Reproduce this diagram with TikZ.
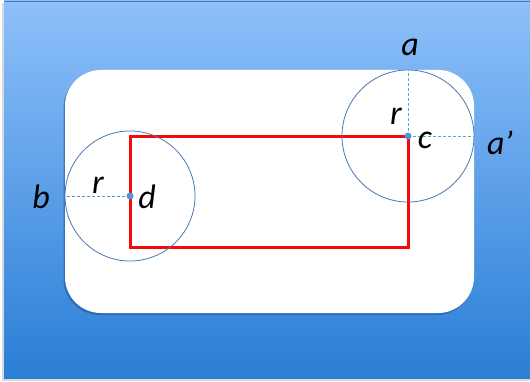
\documentclass[tikz,border=0pt]{standalone}
\usepackage{fontspec}
\setmainfont{Carlito}
\definecolor{bgtop}{RGB}{142,192,250}
\definecolor{bgbot}{RGB}{42,126,214}
\definecolor{bgline}{RGB}{70,120,190}
\definecolor{circ}{RGB}{70,120,180}
\definecolor{dotc}{RGB}{80,150,220}
\definecolor{cyanl}{RGB}{60,180,210}
\definecolor{blued}{RGB}{90,150,210}
\definecolor{redr}{RGB}{245,10,10}
\definecolor{panshadow}{RGB}{40,90,160}
\tikzset{
  lbl/.style={font=\fontsize{34}{40}\selectfont\itshape, inner sep=0pt},
  circline/.style={draw=circ, line width=0.8pt},
  dashc/.style={draw=cyanl, dashed, dash pattern=on 3pt off 2pt, line width=0.9pt},
  dashd/.style={draw=blued, dashed, dash pattern=on 3pt off 2pt, line width=0.9pt},
  ptdot/.style={circle, fill=dotc, inner sep=0pt, minimum size=7pt},
}
\begin{document}
\begin{tikzpicture}[x=1pt,y=-1pt]
\useasboundingbox (0,0) rectangle (530,382);
\fill[white] (0,0) rectangle (530,382);
% shadow of background
\fill[black!15] (2,3) rectangle (530,381);
\shade[top color=bgtop, bottom color=bgbot] (4,1) rectangle (530,378);
\draw[bgline, line width=0.6pt] (4,1) -- (530,1);
% white rounded panel with shadow
\fill[panshadow, opacity=0.6, rounded corners=36pt] (63.5,72) rectangle (473,315);
\fill[white, rounded corners=36pt] (65,70) rectangle (474,313);
% red rectangle
\draw[redr, line width=3pt] (130,137) rectangle (408,247);
% circles
\coordinate (c) at (408,136);
\coordinate (d) at (130,196);
\draw[circline] (c) circle (66);
\draw[circline] (d) circle (65);
\coordinate (atop) at (408,70);
\coordinate (aright) at (474,136);
\coordinate (bleft) at (65,196);
\draw[dashc] (c) -- (atop);
\draw[dashc] (c) -- (aright);
\draw[dashd] (d) -- (bleft);
\node[ptdot] (cdot) at (c) {};
\node[ptdot] (ddot) at (d) {};
% labels
\node[lbl] (la) at (410,47) {a};
\node[lbl] (lr1) at (396,116) {r};
\node[lbl] (lc) at (425,140) {c};
\node[lbl] (lap) at (500,143) {a’};
\node[lbl] (lb) at (41,197) {b};
\node[lbl] (lr2) at (98,185) {r};
\node[lbl] (ld) at (147,197) {d};
\end{tikzpicture}
\end{document}
